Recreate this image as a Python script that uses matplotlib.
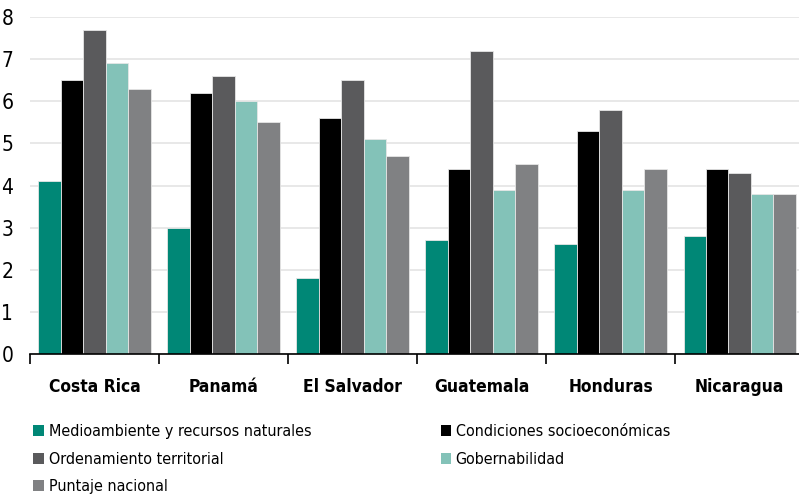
import matplotlib
matplotlib.use("Agg")
import matplotlib.pyplot as plt
import numpy as np
from matplotlib.patches import Patch

plt.rcParams['font.family'] = ['DejaVu Sans']
plt.rcParams['font.stretch'] = 'condensed'

countries = ["Costa Rica", "Panamá", "El Salvador", "Guatemala", "Honduras", "Nicaragua"]
series_names = ["Medioambiente y recursos naturales", "Condiciones socioeconómicas",
                "Ordenamiento territorial", "Gobernabilidad", "Puntaje nacional"]
medioambiente = [4.1, 3.0, 1.8, 2.7, 2.6, 2.8]
condiciones = [6.5, 6.2, 5.6, 4.4, 5.3, 4.4]
ordenamiento = [7.7, 6.6, 6.5, 7.2, 5.8, 4.3]
gobernabilidad = [6.9, 6.0, 5.1, 3.9, 3.9, 3.8]
puntaje = [6.3, 5.5, 4.7, 4.5, 4.4, 3.8]
colors = ["#008776", "#000000", "#5a5a5c", "#83c2b8", "#808183"]

data = [medioambiente, condiciones, ordenamiento, gobernabilidad, puntaje]

fig = plt.figure(figsize=(7.99, 4.97), dpi=100)
ax = fig.add_axes([30 / 799, 1 - 354 / 497, 769 / 799, 337 / 497])

x = np.arange(len(countries))
w = 0.174
for i, (vals, c) in enumerate(zip(data, colors)):
    ax.bar(x + (i - 2) * w, vals, width=w, color=c, edgecolor="#e6e6e6", linewidth=0.6, zorder=2)

ax.set_xlim(-0.5, 5.46)
ax.set_ylim(0, 8)
ax.set_yticks(range(0, 9))
ax.tick_params(axis="y", length=0, labelsize=15, pad=12)
ax.yaxis.grid(True, color="#e4e4e4", linewidth=1.2, zorder=0)
ax.set_axisbelow(True)

ax.set_xticks(np.arange(-0.5, 5, 1.0))
ax.set_xticklabels([])
ax.tick_params(axis="x", length=7, width=1.2, direction="out")
for i, name in enumerate(countries):
    ax.text(i, -0.78, name, ha="center", va="center", fontsize=12.5, fontweight="bold")

for s in ["top", "right", "left"]:
    ax.spines[s].set_visible(False)
ax.spines["bottom"].set_linewidth(1.2)

# legend below, filled row by row
order = [0, 2, 4, 1, 3]
handles = [Patch(facecolor=colors[k]) for k in order]
labels = [series_names[k] for k in order]
fig.legend(handles, labels, loc="upper left", bbox_to_anchor=(27 / 799, 1 - 418 / 497),
           ncol=2, frameon=False, fontsize=11.5, handlelength=0.65, handleheight=0.65,
           handletextpad=0.3, columnspacing=8.1, labelspacing=0.78, borderaxespad=0)

fig.savefig("out.png", dpi=100)
